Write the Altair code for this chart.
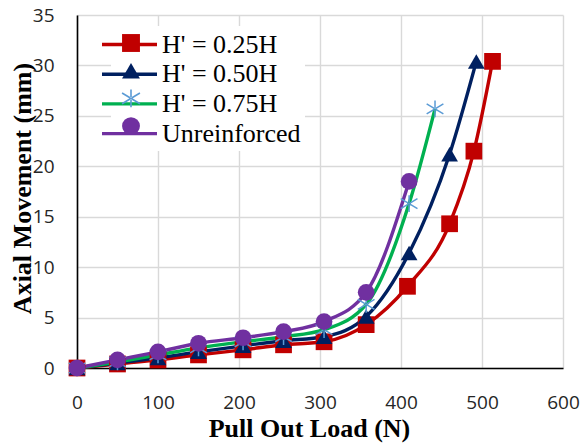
import altair as alt
import pandas as pd

series_names = ["H' = 0.25H", "H' = 0.50H", "H' = 0.75H", "Unreinforced"]

load_025 = [0, 50, 100, 150, 205, 255, 305, 357, 408, 460, 490, 513]
move_025 = [0, 0.4, 0.8, 1.3, 1.8, 2.3, 2.6, 4.3, 8.1, 14.3, 21.5, 30.4]

load_050 = [0, 50, 100, 150, 205, 255, 305, 357, 410, 460, 493]
move_050 = [0, 0.5, 1.0, 1.6, 2.2, 2.7, 3.1, 5.1, 11.4, 21.2, 30.4]

load_075 = [0, 50, 100, 150, 205, 255, 305, 357, 410, 442]
move_075 = [0, 0.6, 1.3, 2.0, 2.6, 3.1, 3.8, 6.3, 16.3, 25.7]

load_unr = [0, 50, 100, 150, 205, 255, 305, 357, 410]
move_unr = [0, 0.8, 1.6, 2.45, 3.0, 3.6, 4.6, 7.5, 18.5]

x_ticks = [0, 100, 200, 300, 400, 500, 600]
y_ticks = [0, 5, 10, 15, 20, 25, 30, 35]

line_colors = ["#C00000", "#002060", "#00B050", "#7030A0"]
marker_colors = ["#C00000", "#002060", "#5B9BD5", "#7030A0"]
# asterisk marker drawn as three thin filled bars
STAR = ("M-0.09,-1H0.09V1H-0.09Z"
        "M-1.046,-0.523L0.954,0.677L1.046,0.523L-0.954,-0.677Z"
        "M-0.954,0.677L1.046,-0.523L0.954,-0.677L-1.046,0.523Z")
marker_shapes = ["square", "triangle-up", STAR, "circle"]

rows = []
for name, xs, ys in zip(series_names,
                        [load_025, load_050, load_075, load_unr],
                        [move_025, move_050, move_075, move_unr]):
    for i, (xv, yv) in enumerate(zip(xs, ys)):
        rows.append({"series": name, "load": xv, "move": yv, "idx": i})
df = pd.DataFrame(rows)

x_enc = alt.X(
    "load:Q",
    scale=alt.Scale(domain=[0, 600], nice=False, zero=True),
    axis=alt.Axis(
        values=x_ticks, title="Pull Out Load (N)", ticks=False, labelFlush=False,
        labelFont="Open Sans", labelFontSize=19, labelColor="#262626", labelPadding=25,
        domainColor="black", domainWidth=1.6,
        gridColor="#d9d9d9", gridWidth=1.4,
        titleFont="Liberation Serif", titleFontSize=26, titleFontWeight="bold", titleColor="black",
        titleX=232, titleY=68, titleBaseline="alphabetic", titleAlign="center",
    ),
)
y_enc = alt.Y(
    "move:Q",
    scale=alt.Scale(domain=[0, 35], nice=False),
    axis=alt.Axis(
        values=y_ticks, title="Axial Movement (mm)", ticks=False, labelFlush=False,
        labelFont="Open Sans", labelFontSize=19, labelColor="#262626", labelPadding=23,
        domainColor="black", domainWidth=1.6,
        gridColor="#d9d9d9", gridWidth=1.4,
        titleFont="Liberation Serif", titleFontSize=26, titleFontWeight="bold", titleColor="black",
        titleX=-47, titleY=173, titleAngle=270, titleBaseline="alphabetic", titleAlign="center",
    ),
)

ROW_STEP = 27.7
LEGEND_TOP = 11

legend_lines = alt.Legend(
    orient="none", legendX=34, legendY=LEGEND_TOP, title=None,
    symbolType="M-2.2,0H2.2", symbolSize=625, symbolStrokeWidth=3.4,
    labelFont="Liberation Serif", labelFontSize=26, labelColor="black",
    labelOffset=18, rowPadding=ROW_STEP - 26, padding=4, fillColor="white",
)

lines = alt.Chart(df).mark_line(interpolate="monotone", strokeWidth=3.4).encode(
    x=x_enc, y=y_enc,
    color=alt.Color("series:N", scale=alt.Scale(domain=series_names, range=line_colors),
                    legend=legend_lines),
    order="idx:Q",
)

point_layers = []
for k, (name, col, shp) in enumerate(zip(series_names, marker_colors, marker_shapes)):
    leg = alt.Legend(
        orient="none", legendX=37, legendY=LEGEND_TOP + k * ROW_STEP, title=None,
        symbolSize=320, symbolStrokeWidth=0, symbolOpacity=1, symbolFillColor=col,
        labelFont="Liberation Serif", labelFontSize=26, labelExpr="''",
        labelOffset=22, padding=4,
    )
    layer = alt.Chart(df).transform_filter(
        alt.datum.series == name
    ).mark_point(filled=True, size=280, opacity=1, color=col).encode(
        x=x_enc, y=y_enc,
        shape=alt.Shape("series:N", scale=alt.Scale(domain=[name], range=[shp]), legend=leg),
    )
    point_layers.append(layer)

chart = alt.layer(lines, *point_layers).resolve_scale(
    shape="independent"
).properties(
    width=486, height=353,
    autosize=alt.AutoSizeParams(type="none"),
    padding={"left": 77, "top": 15, "right": 19, "bottom": 75},
    background="white",
).configure_view(stroke=None)

chart.save("out.html", embed_options={"renderer": "svg", "actions": False})
